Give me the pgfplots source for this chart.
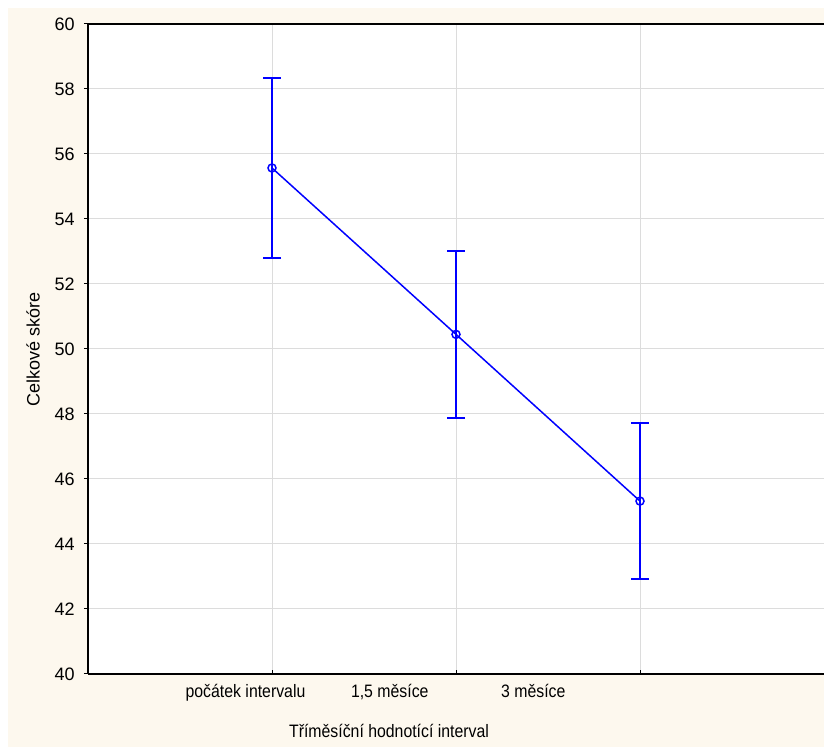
\documentclass[border=0pt]{standalone}
\usepackage{fontspec}
\setmainfont{Liberation Sans}
\newfontfamily\condfont[FakeStretch=0.88]{Liberation Sans}
\usepackage{pgfplots}
\pgfplotsset{compat=1.18}
\definecolor{cream}{HTML}{FDF8EE}
\definecolor{gridgray}{HTML}{DCDCDC}
\begin{document}
\fontsize{9}{11}\selectfont
\begin{tikzpicture}
\useasboundingbox (-44pt,-36.5pt) rectangle (368pt,337pt);
\fill[cream] (-40pt,-36.5pt) rectangle (368pt,333pt);
\begin{axis}[
    at={(0,0)}, anchor=origin,
    scale only axis,
    width=368pt, height=325pt,
    axis background/.style={fill=white},
    axis lines=left,
    axis line style={-, line width=1pt, black},
    xmin=0, xmax=4,
    ymin=40, ymax=60,
    xtick={1,2,3},
    xticklabels={},
    extra x ticks={0.856,1.640,2.420},
    extra x tick labels={počátek intervalu, {1,5 měsíce}, 3 měsíce},
    extra x tick style={major tick length=0pt, grid=none,
        tick label style={font=\condfont\fontsize{9}{11}\selectfont, yshift=-2pt}},
    ytick={40,42,...,60},
    grid=major,
    major grid style={gridgray, line width=0.5pt},
    tick style={black, line width=0.5pt},
    major tick length=2pt,
    ytick align=outside,
    xtick align=inside,
    /pgf/number format/assume math mode=true,
    yticklabel style={font=\fontsize{9}{11}\selectfont, xshift=-1.5pt},
    xlabel={Tříměsíční hodnotící interval},
    ylabel={Celkové skóre},
    x label style={font=\condfont\fontsize{9}{11}\selectfont,
        at={(axis description cs:0.409,-0.0877)}, anchor=center},
    y label style={font=\fontsize{9}{11}\selectfont,
        at={(axis description cs:-0.0747,0.5)}, anchor=center},
    clip=false,
]
\addplot[blue, line width=0.75pt, mark=o, mark size=2pt,
    mark options={line width=0.75pt},
    error bars/.cd, y dir=both, y explicit,
    error bar style={line width=1pt, blue},
    error mark options={rotate=90, mark size=4.5pt, line width=1pt, blue}]
coordinates {
    (1,55.57) += (0,2.77) -= (0,2.77)
    (2,50.45) += (0,2.57) -= (0,2.57)
    (3,45.32) += (0,2.40) -= (0,2.40)
};
\end{axis}
\draw[black, line width=1pt] (0,325pt) -- (368pt,325pt);
\end{tikzpicture}
\end{document}
